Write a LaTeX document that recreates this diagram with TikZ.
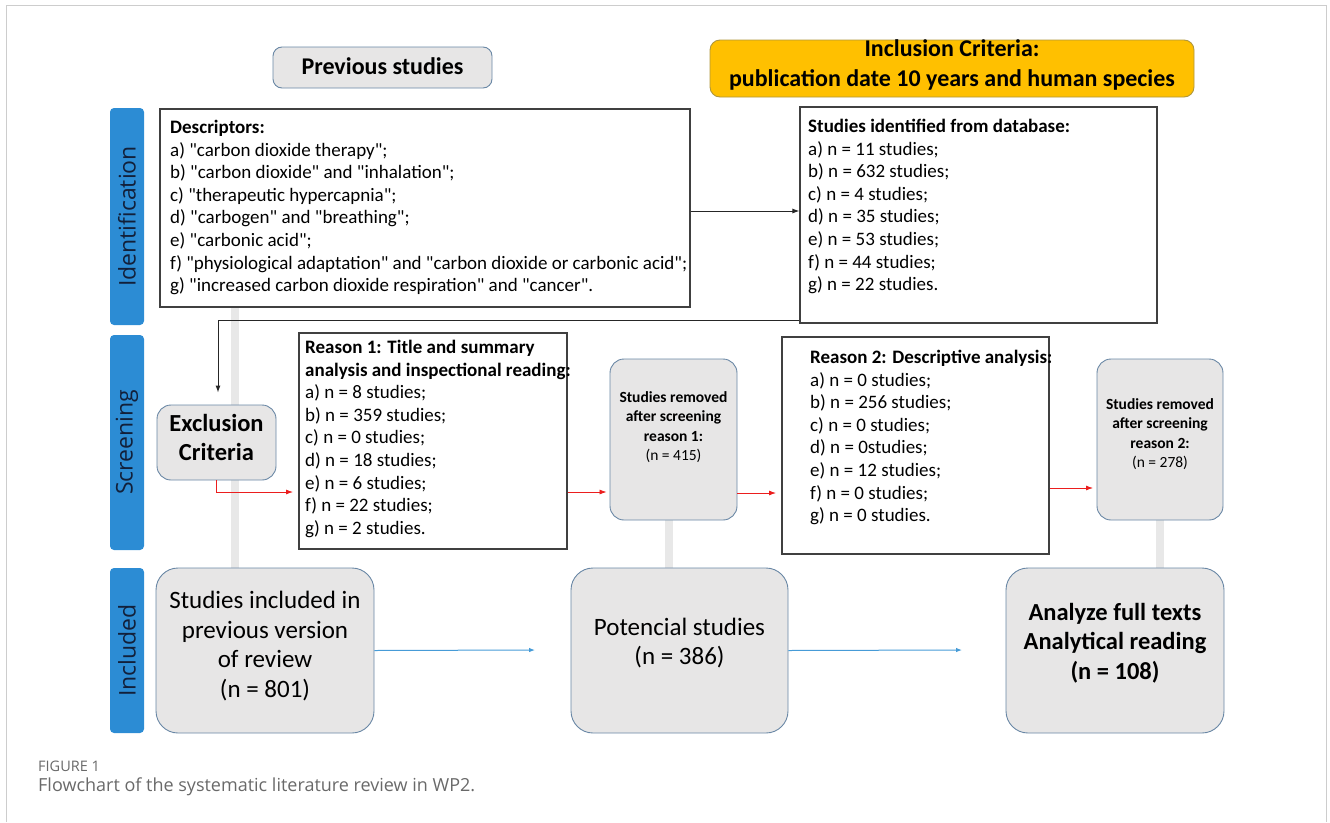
\documentclass[tikz,border=0pt]{standalone}
\usepackage{fontspec}
\setmainfont{Carlito}[Ligatures=TeXOff]
\newfontfamily\barfont{Open Sans}
\newfontfamily\capfont{Open Sans}
\usetikzlibrary{arrows.meta}
\definecolor{barblue}{RGB}{44,140,212}
\definecolor{boxgrey}{RGB}{231,230,230}
\definecolor{boxedge}{RGB}{105,135,165}
\definecolor{inclfill}{RGB}{255,192,0}
\definecolor{incledge}{RGB}{175,150,60}
\definecolor{bgline}{RGB}{232,232,232}
\definecolor{arrblue}{RGB}{70,155,215}
\definecolor{captgrey}{RGB}{105,105,105}
\definecolor{bartext}{RGB}{18,32,58}
\definecolor{framegrey}{RGB}{205,205,205}
\definecolor{arrred}{RGB}{235,30,30}
\begin{document}
\begin{tikzpicture}[x=1pt,y=-1pt,
  bar/.style={fill=barblue, rounded corners=4pt, minimum width=34pt, inner sep=0pt},
  bartxt/.style={rotate=90, text=bartext, font=\barfont\fontsize{23}{26}\selectfont},
  gbox/.style={fill=boxgrey, draw=boxedge, line width=0.9pt, rounded corners=14pt, inner sep=0pt},
  wbox/.style={fill=white, draw=black!75, line width=1.1pt, inner sep=0pt},
  listtxt/.style={anchor=north west, inner sep=0pt, align=left, font=\fontsize{19}{22.6}\selectfont},
  remtxt/.style={align=center, inner sep=0pt, font=\fontsize{15.5}{19.3}\selectfont},
  bigtxt/.style={align=center, inner sep=0pt, font=\fontsize{25}{29.5}\selectfont},
  blk/.style={draw=black!85, line width=1pt, -{Latex[length=7pt,width=5pt]}},
  redarr/.style={draw=arrred, line width=0.8pt, -{Latex[length=7pt,width=5pt]}},
  bluearr/.style={draw=arrblue, line width=1pt, -{Latex[length=6pt,width=4.5pt]}},
  bgl/.style={draw=bgline, line width=8pt}
]
\useasboundingbox (0,0) rectangle (1330,822);
% outer frame
\draw[framegrey, line width=1pt] (6,822) -- (6,5) -- (1326,5) -- (1326,822);

% background connector lines
\coordinate (bgA) at (235,200);
\coordinate (bgB) at (669,500);
\coordinate (bgC) at (1160,500);
\draw[bgl] (bgA) -- (235,570);
\draw[bgl] (bgB) -- (669,570);
\draw[bgl] (bgC) -- (1160,570);

% top headers
\node[gbox, rounded corners=9pt, minimum width=219pt, minimum height=41pt] (prev) at (382.5,67.5) {};
\node[inner sep=0pt, font=\bfseries\fontsize{24}{26}\selectfont] (prevt) at (382.5,66) {Previous studies};
\node[fill=inclfill, draw=incledge, line width=0.9pt, rounded corners=10pt, minimum width=484pt, minimum height=57pt, inner sep=0pt] (incl) at (952,68.5) {};
\node[align=center, inner sep=0pt, font=\bfseries\fontsize{24}{30}\selectfont] (inclt) at (952,65) {Inclusion Criteria:\\publication date 10 years and human species};

% stage bars
\node[bar, minimum height=217pt] (idbar) at (127,216.5) {};
\node[bartxt] (idtxt) at (127,216.5) {Identification};
\node[bar, minimum height=215pt] (scbar) at (127,442.5) {};
\node[bartxt] (sctxt) at (127,442.5) {Screening};
\node[bar, minimum height=165pt] (inbar) at (127,650.5) {};
\node[bartxt] (intxt) at (127,650.5) {Included};

% identification boxes
\node[wbox, minimum width=530pt, minimum height=198pt] (desc) at (425,208) {};
\node[listtxt] (desct) at (170,120) {\textbf{Descriptors:}\\
a) "carbon dioxide therapy";\\
b) "carbon dioxide" and "inhalation";\\
c) "therapeutic hypercapnia";\\
d) "carbogen" and "breathing";\\
e) "carbonic acid";\\
f) "physiological adaptation" and "carbon dioxide or carbonic acid";\\
g) "increased carbon dioxide respiration" and "cancer".};

\node[wbox, minimum width=357pt, minimum height=216pt] (stud) at (978.5,215) {};
\node[listtxt] (studt) at (808,119) {\textbf{Studies identified from database:}\\
a) n = 11 studies;\\
b) n = 632 studies;\\
c) n = 4 studies;\\
d) n = 35 studies;\\
e) n = 53 studies;\\
f) n = 44 studies;\\
g) n = 22 studies.};

% screening
\node[gbox, minimum width=119pt, minimum height=75pt] (excl) at (216.5,442.5) {};
\node[align=center, inner sep=0pt, font=\bfseries\fontsize{24.5}{29}\selectfont] (exclt) at (216.5,437) {Exclusion\\Criteria};

\node[wbox, minimum width=268pt, minimum height=216pt] (r1) at (433,441) {};
\node[listtxt] (r1t) at (305,340) {\textbf{Reason 1: Title and summary}\\
\textbf{analysis and inspectional reading:}\\
a) n = 8 studies;\\
b) n = 359 studies;\\
c) n = 0 studies;\\
d) n = 18 studies;\\
e) n = 6 studies;\\
f) n = 22 studies;\\
g) n = 2 studies.};

\node[gbox, minimum width=127pt, minimum height=161pt] (rem1) at (673.5,439.5) {};
\node[remtxt] (rem1t) at (673.5,427) {\textbf{Studies removed}\\\textbf{after screening}\\\textbf{reason 1:}\\(n = 415)};

\node[wbox, minimum width=267pt, minimum height=217pt] (r2) at (915.5,445.5) {};
\node[listtxt] (r2t) at (810,350) {\textbf{Reason 2: Descriptive analysis:}\\
a) n = 0 studies;\\
b) n = 256 studies;\\
c) n = 0 studies;\\
d) n = 0studies;\\
e) n = 12 studies;\\
f) n = 0 studies;\\
g) n = 0 studies.};

\node[gbox, minimum width=126pt, minimum height=161pt] (rem2) at (1160,439.5) {};
\node[remtxt] (rem2t) at (1160,434) {\textbf{Studies removed}\\\textbf{after screening}\\\textbf{reason 2:}\\(n = 278)};

% included
\node[gbox, rounded corners=22pt, minimum width=218pt, minimum height=165pt] (inc1) at (265,650.5) {};
\node[bigtxt] (inc1t) at (265,646) {Studies included in\\previous version\\of review\\(n = 801)};
\node[gbox, rounded corners=22pt, minimum width=217pt, minimum height=165pt] (pot) at (679.5,650.5) {};
\node[bigtxt] (pott) at (679.5,643) {Potencial studies\\(n = 386)};
\node[gbox, rounded corners=22pt, minimum width=218pt, minimum height=165pt] (ana) at (1115,650.5) {};
\node[bigtxt, font=\bfseries\fontsize{24.5}{29.5}\selectfont] (anat) at (1115,643) {Analyze full texts\\Analytical reading\\(n = 108)};

% connectors
\draw[blk] ([yshift=-3pt]desc.east) -- ([yshift=-3pt]desc.east -| stud.west);
\draw[blk] ([yshift=-105pt]stud.west) -| ([xshift=1.5pt,yshift=12pt]excl.north);
\coordinate (r1in) at (293,492);
\draw[redarr] (excl.south) |- (r1in);
\draw[redarr] (r1.east |- r1in) -- ([xshift=-3pt]rem1.west |- r1in);
\coordinate (r2in) at (776,493);
\draw[redarr] (rem1.east |- r2in) -- (r2in);
\coordinate (rem2in) at (1093,488);
\draw[redarr] (r2.east |- rem2in) -- (rem2in);
\coordinate (potin) at (535,650);
\draw[bluearr] (inc1.east) -- (potin);
\coordinate (anain) at (962,650);
\draw[bluearr] (pot.east) -- (anain);

% caption
\node[anchor=west, inner sep=0pt, text=captgrey, font=\capfont\fontsize{14.5}{16}\selectfont] (figlab) at (38,766) {FIGURE 1};
\node[anchor=west, inner sep=0pt, text=captgrey, font=\capfont\fontsize{18}{21}\selectfont] (figcap) at (38,787) {Flowchart of the systematic literature review in WP2.};
\end{tikzpicture}
\end{document}
